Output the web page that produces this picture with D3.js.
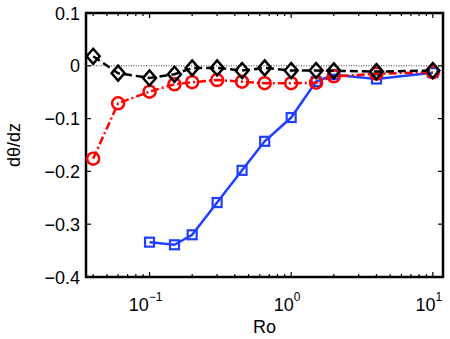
<!DOCTYPE html>
<html>
<head>
<meta charset="utf-8">
<script src="https://cdn.jsdelivr.net/npm/d3@7"></script>
<style>
  body { margin: 0; background: #fff; }
  text { font-family: "Liberation Sans", Arial, sans-serif; }
</style>
</head>
<body>
<svg id="chart" width="450" height="339"></svg>
<script>
// Ro values for each series
var roBlack = [0.04, 0.06, 0.1, 0.15, 0.2, 0.3, 0.45, 0.65, 1, 1.5, 2, 4, 10];
var roRed = [0.04, 0.06, 0.1, 0.15, 0.2, 0.3, 0.45, 0.65, 1, 1.5, 2, 4, 10];
var roBlue = [0.1, 0.15, 0.2, 0.3, 0.45, 0.65, 1, 1.5, 2, 4, 10];

// dtheta/dz values
var blackVals = [0.018, -0.014, -0.023, -0.016, -0.004, -0.004, -0.009, -0.004, -0.009, -0.009, -0.0095, -0.011, -0.009];
var redVals = [-0.176, -0.071, -0.049, -0.035, -0.031, -0.027, -0.030, -0.033, -0.033, -0.032, -0.020, -0.015, -0.012];
var blueVals = [-0.334, -0.339, -0.320, -0.259, -0.198, -0.143, -0.098, -0.030, -0.017, -0.025, -0.013];

var yTicks = [0.1, 0, -0.1, -0.2, -0.3, -0.4];
var xTicks = [0.1, 1, 10];
var xTickExp = ["\u22121", "0", "1"];

var margin = {left: 86, top: 13, right: 443, bottom: 277};

var svg = d3.select("#chart");

var x = d3.scaleLog().domain([0.0356, 11.8]).range([margin.left, margin.right]);
var y = d3.scaleLinear().domain([-0.4, 0.1]).range([margin.bottom, margin.top]);

//Minor ticks for the log axis
var minorTicks = [];
[0.01, 0.1, 1, 10].forEach(function(d) {
    for (var k = 2; k <= 9; k++) {
        var v = d * k;
        if (v > x.domain()[0] && v < x.domain()[1]) minorTicks.push(v);
    }
});

var g = svg.append("g");

//Zero dotted line
g.append("line")
    .attr("x1", margin.left).attr("x2", margin.right)
    .attr("y1", y(0)).attr("y2", y(0))
    .attr("stroke", "#000").attr("stroke-width", 0.8)
    .attr("stroke-dasharray", "1,1.5");

//Ticks: bottom/top
function addXTicks(vals, len) {
    vals.forEach(function(v) {
        g.append("line").attr("x1", x(v)).attr("x2", x(v))
            .attr("y1", margin.bottom).attr("y2", margin.bottom - len)
            .attr("stroke", "#000").attr("stroke-width", 1.2);
        g.append("line").attr("x1", x(v)).attr("x2", x(v))
            .attr("y1", margin.top).attr("y2", margin.top + len)
            .attr("stroke", "#000").attr("stroke-width", 1.2);
    });
}
addXTicks(xTicks, 5);
addXTicks(minorTicks, 3);

yTicks.forEach(function(v) {
    g.append("line").attr("x1", margin.left).attr("x2", margin.left + 5)
        .attr("y1", y(v)).attr("y2", y(v)).attr("stroke", "#000").attr("stroke-width", 1.2);
    g.append("line").attr("x1", margin.right).attr("x2", margin.right - 5)
        .attr("y1", y(v)).attr("y2", y(v)).attr("stroke", "#000").attr("stroke-width", 1.2);
    g.append("text")
        .attr("x", margin.left - 6).attr("y", y(v) + 6.5)
        .attr("text-anchor", "end").attr("font-size", 18)
        .text(v === 0 ? "0" : d3.format(".1f")(v).replace("-", "\u2212"));
});

xTicks.forEach(function(v, i) {
    var t = g.append("text")
        .attr("x", x(v) - 4).attr("y", 311)
        .attr("text-anchor", "middle").attr("font-size", 18);
    t.append("tspan").text("10");
    t.append("tspan").attr("dy", -10).attr("font-size", 12).text(xTickExp[i]);
});

//Axis box
g.append("rect")
    .attr("x", margin.left).attr("y", margin.top)
    .attr("width", margin.right - margin.left).attr("height", margin.bottom - margin.top)
    .attr("fill", "none").attr("stroke", "#000").attr("stroke-width", 2.5);

//Labels
g.append("text").attr("x", (margin.left + margin.right) / 2).attr("y", 333)
    .attr("text-anchor", "middle").attr("font-size", 18).text("Ro");
g.append("text")
    .attr("transform", "translate(20," + ((margin.top + margin.bottom) / 2) + ") rotate(-90)")
    .attr("text-anchor", "middle").attr("font-size", 18).text("d\u03b8/dz");

var line = d3.line().x(function(d) { return x(d[0]); }).y(function(d) { return y(d[1]); });

function pairs(xs, ys) { return xs.map(function(v, i) { return [v, ys[i]]; }); }

var blueData = pairs(roBlue, blueVals);
var redData = pairs(roRed, redVals);
var blackData = pairs(roBlack, blackVals);

//Blue series
g.append("path").datum(blueData).attr("d", line)
    .attr("fill", "none").attr("stroke", "#2040ff").attr("stroke-width", 2.5);
g.selectAll(".sq").data(blueData).enter().append("rect")
    .attr("x", function(d) { return x(d[0]) - 4.5; })
    .attr("y", function(d) { return y(d[1]) - 4.5; })
    .attr("width", 9).attr("height", 9)
    .attr("fill", "none").attr("stroke", "#2040ff").attr("stroke-width", 2.2);

//Red series
g.append("path").datum(redData).attr("d", line)
    .attr("fill", "none").attr("stroke", "#ff0000").attr("stroke-width", 2.5)
    .attr("stroke-dasharray", "8,3,2,3");
g.selectAll(".ci").data(redData).enter().append("circle")
    .attr("cx", function(d) { return x(d[0]); })
    .attr("cy", function(d) { return y(d[1]); })
    .attr("r", 6)
    .attr("fill", "none").attr("stroke", "#ff0000").attr("stroke-width", 2.5);

//Black series
g.append("path").datum(blackData).attr("d", line)
    .attr("fill", "none").attr("stroke", "#000").attr("stroke-width", 2.5)
    .attr("stroke-dasharray", "8,4");
g.selectAll(".di").data(blackData).enter().append("path")
    .attr("transform", function(d) { return "translate(" + x(d[0]) + "," + y(d[1]) + ")"; })
    .attr("d", "M0,-7.5L6.5,0L0,7.5L-6.5,0Z")
    .attr("fill", "none").attr("stroke", "#000").attr("stroke-width", 2.5);
</script>
</body>
</html>
